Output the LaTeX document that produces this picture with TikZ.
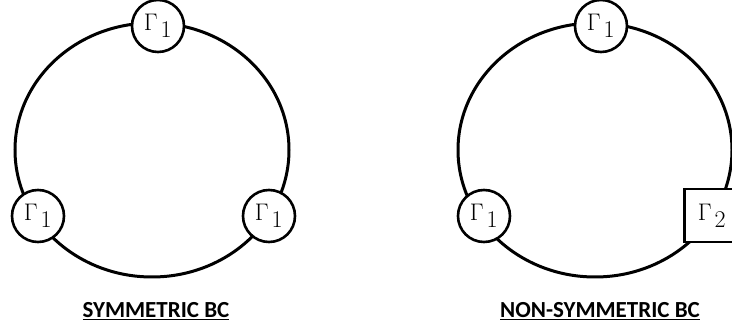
\RequirePackage{fix-cm}
\documentclass[tikz,border=0pt]{standalone}
\usepackage{fontspec}
\newfontfamily\capfont{Carlito}
\begin{document}
\begin{tikzpicture}[x=1pt,y=1pt]
% -------------------------------------------------
% Styles for the rings, the boundary nodes and the captions
\tikzset{
  rim/.style={line width=3pt},
  bc/.style={draw, line width=2.6pt, fill=white, inner sep=0pt,
    font=\fontsize{24}{29}\selectfont},
  roundbc/.style={bc, circle, minimum size=52pt},
  flatbc/.style={bc, rectangle, minimum width=55pt, minimum height=53pt},
  bclabel/.style={font=\capfont\bfseries\fontsize{23}{27}\selectfont, anchor=base}
}
\clip (0,0) rectangle (732,329);
% -------------------------------------------------
% Symmetric case
\coordinate (sc) at (152,179);
\draw[rim] (sc) ellipse [x radius=137pt, y radius=127pt];
\node [roundbc] (st) at (158,303) {$\Gamma_{\,\textstyle 1}$};
\node [roundbc] (sl) at (38,113) {$\Gamma_{\,\textstyle 1}$};
\node [roundbc] (sr) at (269,113) {$\Gamma_{\,\textstyle 1}$};
\node [bclabel] (scap) at (156,11) {\underline{SYMMETRIC BC}};

% Non-symmetric case
\coordinate (nc) at (595,179);
\draw[rim] (nc) ellipse [x radius=137pt, y radius=127pt];
\node [roundbc] (nt) at (601,303) {$\Gamma_{\,\textstyle 1}$};
\node [roundbc] (nl) at (484,113) {$\Gamma_{\,\textstyle 1}$};
\node [flatbc] (nr) at (712,113.5) {$\Gamma_{\,\textstyle 2}$};
\node [bclabel] (ncap) at (600,11) {\underline{NON-SYMMETRIC BC}};
% -------------------------------------------------
\end{tikzpicture}
\end{document}
